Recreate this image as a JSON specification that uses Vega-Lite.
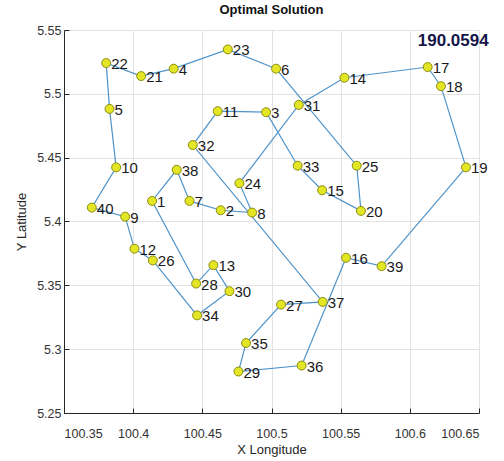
{
  "$schema": "https://vega.github.io/schema/vega-lite/v6.json",
  "width": 415,
  "height": 383,
  "autosize": {"type": "none"},
  "padding": {"left": 64, "top": 30, "right": 25, "bottom": 48},
  "background": "white",
  "title": {"text": "Optimal Solution", "fontSize": 13, "font": "Liberation Sans", "fontWeight": "bold", "color": "#111111", "offset": 7},
  "config": {
    "view": {"stroke": null},
    "axis": {"labelFont": "Liberation Sans", "titleFont": "Liberation Sans", "labelFontSize": 12.5, "titleFontSize": 13, "titleFontWeight": "normal", "labelColor": "#333333", "titleColor": "#262626", "gridColor": "#e3e3e3", "domainColor": "#262626", "tickColor": "#262626", "tickSize": -5}
  },
  "datasets": {
    "cities": [
      {"id": 1, "lon": 100.4137, "lat": 5.4161},
      {"id": 2, "lon": 100.4633, "lat": 5.4088},
      {"id": 3, "lon": 100.4961, "lat": 5.4856},
      {"id": 4, "lon": 100.4293, "lat": 5.5197},
      {"id": 5, "lon": 100.3829, "lat": 5.4882},
      {"id": 6, "lon": 100.5033, "lat": 5.5197},
      {"id": 7, "lon": 100.4407, "lat": 5.4161},
      {"id": 8, "lon": 100.486, "lat": 5.407},
      {"id": 9, "lon": 100.3942, "lat": 5.4038},
      {"id": 10, "lon": 100.3877, "lat": 5.4424},
      {"id": 11, "lon": 100.4611, "lat": 5.4864},
      {"id": 12, "lon": 100.4009, "lat": 5.3787},
      {"id": 13, "lon": 100.458, "lat": 5.3658},
      {"id": 14, "lon": 100.5527, "lat": 5.5126},
      {"id": 15, "lon": 100.5366, "lat": 5.4245},
      {"id": 16, "lon": 100.5539, "lat": 5.3716},
      {"id": 17, "lon": 100.6129, "lat": 5.521},
      {"id": 18, "lon": 100.6225, "lat": 5.506},
      {"id": 19, "lon": 100.6406, "lat": 5.4424},
      {"id": 20, "lon": 100.5647, "lat": 5.4083},
      {"id": 21, "lon": 100.4058, "lat": 5.5139},
      {"id": 22, "lon": 100.3805, "lat": 5.5241},
      {"id": 23, "lon": 100.4684, "lat": 5.5348},
      {"id": 24, "lon": 100.4768, "lat": 5.43},
      {"id": 25, "lon": 100.5616, "lat": 5.4437},
      {"id": 26, "lon": 100.4142, "lat": 5.3695},
      {"id": 27, "lon": 100.5069, "lat": 5.3349},
      {"id": 28, "lon": 100.4455, "lat": 5.3514},
      {"id": 29, "lon": 100.4761, "lat": 5.2825},
      {"id": 30, "lon": 100.4696, "lat": 5.3454},
      {"id": 31, "lon": 100.5197, "lat": 5.4913},
      {"id": 32, "lon": 100.4431, "lat": 5.4599},
      {"id": 33, "lon": 100.5189, "lat": 5.4437},
      {"id": 34, "lon": 100.4462, "lat": 5.3265},
      {"id": 35, "lon": 100.4816, "lat": 5.3048},
      {"id": 36, "lon": 100.5218, "lat": 5.2872},
      {"id": 37, "lon": 100.537, "lat": 5.337},
      {"id": 38, "lon": 100.4315, "lat": 5.4405},
      {"id": 39, "lon": 100.5796, "lat": 5.365},
      {"id": 40, "lon": 100.3701, "lat": 5.4109}
    ],
    "tour": [
      {"step": 0, "id": 6}, {"step": 1, "id": 23}, {"step": 2, "id": 4}, {"step": 3, "id": 21},
      {"step": 4, "id": 22}, {"step": 5, "id": 5}, {"step": 6, "id": 10}, {"step": 7, "id": 40},
      {"step": 8, "id": 9}, {"step": 9, "id": 12}, {"step": 10, "id": 26}, {"step": 11, "id": 34},
      {"step": 12, "id": 30}, {"step": 13, "id": 13}, {"step": 14, "id": 28}, {"step": 15, "id": 1},
      {"step": 16, "id": 38}, {"step": 17, "id": 7}, {"step": 18, "id": 2}, {"step": 19, "id": 8},
      {"step": 20, "id": 24}, {"step": 21, "id": 31}, {"step": 22, "id": 14}, {"step": 23, "id": 17},
      {"step": 24, "id": 18}, {"step": 25, "id": 19}, {"step": 26, "id": 39}, {"step": 27, "id": 16},
      {"step": 28, "id": 36}, {"step": 29, "id": 29}, {"step": 30, "id": 35}, {"step": 31, "id": 27},
      {"step": 32, "id": 37}, {"step": 33, "id": 32}, {"step": 34, "id": 11}, {"step": 35, "id": 3},
      {"step": 36, "id": 33}, {"step": 37, "id": 15}, {"step": 38, "id": 20}, {"step": 39, "id": 25},
      {"step": 40, "id": 6}
    ],
    "note": [{"lon": 100.657, "lat": 5.5415, "label": "190.0594"}]
  },
  "layer": [
    {
      "data": {"name": "tour"},
      "transform": [{"lookup": "id", "from": {"data": {"name": "cities"}, "key": "id", "fields": ["lon", "lat"]}}],
      "mark": {"type": "line", "color": "#4f93c9", "strokeWidth": 1.2},
      "encoding": {
        "x": {"field": "lon", "type": "quantitative", "scale": {"domain": [100.35, 100.65], "nice": false, "zero": false},
              "axis": {"values": [100.35, 100.4, 100.45, 100.5, 100.55, 100.6, 100.65], "format": ".2~f", "title": "X Longitude", "grid": true, "labelPadding": 19, "titlePadding": 4}},
        "y": {"field": "lat", "type": "quantitative", "scale": {"domain": [5.25, 5.55], "nice": false, "zero": false},
              "axis": {"values": [5.25, 5.3, 5.35, 5.4, 5.45, 5.5, 5.55], "format": ".2~f", "title": "Y Latitude", "grid": true, "labelPadding": 8, "titlePadding": 8}},
        "order": {"field": "step", "type": "quantitative"}
      }
    },
    {
      "data": {"name": "cities"},
      "mark": {"type": "point", "shape": "circle", "filled": true, "fill": "#e3e624", "stroke": "#8c8c10", "strokeWidth": 1, "size": 80, "opacity": 1},
      "encoding": {
        "x": {"field": "lon", "type": "quantitative"},
        "y": {"field": "lat", "type": "quantitative"}
      }
    },
    {
      "data": {"name": "cities"},
      "mark": {"type": "text", "align": "left", "baseline": "middle", "dx": 5, "dy": 1, "font": "Liberation Sans", "fontSize": 15, "color": "#1a1a1a"},
      "encoding": {
        "x": {"field": "lon", "type": "quantitative"},
        "y": {"field": "lat", "type": "quantitative"},
        "text": {"field": "id", "type": "nominal"}
      }
    },
    {
      "data": {"name": "note"},
      "mark": {"type": "text", "align": "right", "baseline": "middle", "font": "Liberation Sans", "fontSize": 17, "fontWeight": "bold", "color": "#16164a"},
      "encoding": {
        "x": {"field": "lon", "type": "quantitative"},
        "y": {"field": "lat", "type": "quantitative"},
        "text": {"field": "label", "type": "nominal"}
      }
    }
  ]
}
